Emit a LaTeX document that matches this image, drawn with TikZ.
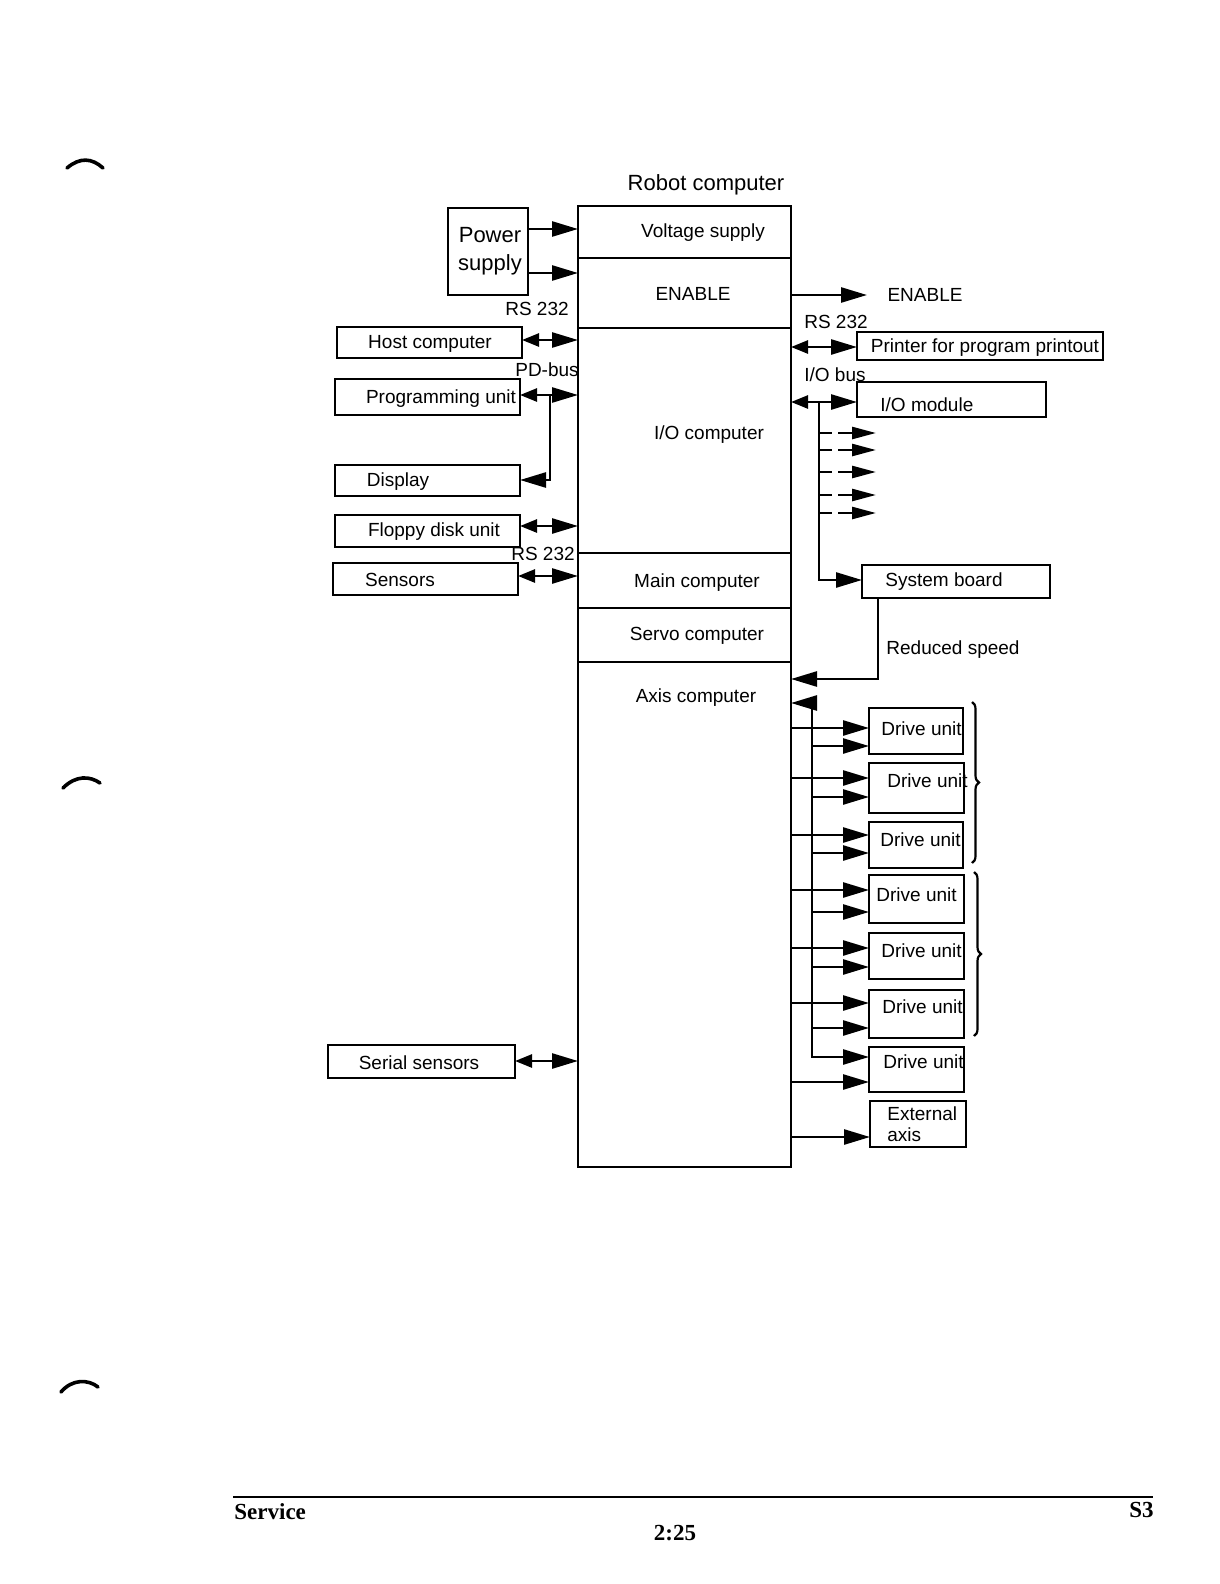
\documentclass[tikz,border=0pt]{standalone}
\usepackage{fontspec}
\setmainfont{Liberation Sans}
\newfontfamily\footfont{Liberation Serif}
\usetikzlibrary{arrows.meta,decorations.pathreplacing,calc}
\newcommand\mkbox[5]{%
  \pgfmathsetmacro\mkw{(#4-#2)*0.5}%
  \pgfmathsetmacro\mkh{(#5-#3)*0.5}%
  \pgfmathsetmacro\mkx{(#2+#4)/2}%
  \pgfmathsetmacro\mky{(#3+#5)/2}%
  \node[boxst, minimum width=\mkw pt, minimum height=\mkh pt] (#1) at (\mkx,\mky) {};}
\begin{document}
\begin{tikzpicture}[x=0.5pt,y=-0.5pt,
  ln/.style={line width=1.3pt},
  boxst/.style={draw, line width=1.4pt, inner sep=0pt, outer sep=0pt},
  lbl/.style={font=\fontsize{9.5}{11}\selectfont, inner sep=0pt, yshift=-0.8pt},
  big/.style={font=\fontsize{11}{14}\selectfont, inner sep=0pt, yshift=-1pt},
  foot/.style={font=\footfont\bfseries\fontsize{11.5}{13}\selectfont, inner sep=0pt},
  arr/.style={line width=1.3pt, -{Triangle[length=13pt,width=7.5pt]}},
  larr/.style={line width=1.3pt, {Triangle[length=13pt,width=7.5pt]}-},
  bi/.style={line width=1.3pt, {Triangle[length=8.5pt,width=6.5pt]}-{Triangle[length=13pt,width=7.5pt]}},
  dbl/.style={line width=1.3pt, {Triangle[length=13pt,width=7.5pt]}-{Triangle[length=13pt,width=7.5pt]}},
  darr/.style={line width=1.3pt, -{Triangle[length=12pt,width=6pt]}},
  brc/.style={line width=1.1pt, decorate, decoration={brace, amplitude=3.5pt}},
  punch/.style={line width=1.8pt, line cap=round},
]
\fill[white] (0,0) rectangle (1220,1584);
\useasboundingbox (0,0) rectangle (1220,1584);

% main robot computer box
\mkbox{main}{578}{206}{791}{1167}
\foreach \yy in {258,328,553,608,662} {\draw[ln] (main.west |- 0,\yy) -- (main.east |- 0,\yy);}
\node[big] (t-robot) at (706,183) {Robot computer};
\node[lbl] (t-volt) at (703,231) {Voltage supply};
\node[lbl] (t-en) at (693,292) {ENABLE};
\node[lbl] (t-io) at (709,433) {I/O computer};
\node[lbl] (t-main) at (697,581) {Main computer};
\node[lbl] (t-servo) at (697,634) {Servo computer};
\node[lbl] (t-axis) at (696,696) {Axis computer};

% left boxes
\mkbox{power}{448}{208}{528}{295}
\mkbox{host}{337}{327}{522}{358}
\mkbox{prog}{335}{379}{520}{415}
\mkbox{disp}{335}{465}{520}{496}
\mkbox{floppy}{335}{515}{520}{547}
\mkbox{sens}{333}{563}{518}{595}
\mkbox{serial}{328}{1045}{515}{1078}

\node[big, align=center] (t-power) at (490,249) {Power\\supply};
\node[lbl] (t-host) at (430,342) {Host computer};
\node[lbl] (t-prog) at (441,397) {Programming unit};
\node[lbl] (t-disp) at (398,480) {Display};
\node[lbl] (t-floppy) at (434,530) {Floppy disk unit};
\node[lbl] (t-sens) at (400,578) {Sensors};
\node[lbl] (t-serial) at (419,1061) {Serial sensors};
\node[lbl] (t-rs1) at (537,307) {RS 232};
\node[lbl] (t-pd) at (547,368) {PD-bus};
\node[lbl] (t-rs2) at (543,552) {RS 232};

% left connectors
\draw[arr] (power.east |- 0,229) -- (main.west |- 0,229);
\draw[arr] (power.east |- 0,273) -- (main.west |- 0,273);
\draw[bi] (host.east |- 0,340) -- (main.west |- 0,340);
\draw[bi] (prog.east |- 0,395) -- (main.west |- 0,395);
\coordinate (pdj) at (550,395);
\draw[larr] (disp.east |- 0,480) -- (pdj |- 0,480) -- (pdj);
\draw[bi] (floppy.east |- 0,526) -- (main.west |- 0,526);
\draw[bi] (sens.east |- 0,576) -- (main.west |- 0,576);
\draw[bi] (serial.east |- 0,1061) -- (main.west |- 0,1061);

% right boxes
\mkbox{printer}{857}{332}{1103}{360}
\mkbox{iomod}{857}{382}{1046}{417}
\mkbox{sysb}{862}{565}{1050}{598}
\mkbox{du1}{869}{708}{963}{754}
\mkbox{du2}{869}{763}{964}{813}
\mkbox{du3}{869}{822}{963}{868}
\mkbox{du4}{869}{875}{964}{923}
\mkbox{du5}{869}{933}{964}{979}
\mkbox{du6}{869}{990}{964}{1038}
\mkbox{du7}{869}{1047}{964}{1092}
\mkbox{ext}{870}{1101}{966}{1147}

\node[lbl] (t-en2) at (925,293) {ENABLE};
\node[lbl] (t-rs3) at (836,320) {RS 232};
\node[lbl] (t-printer) at (985,346) {Printer for program printout};
\node[lbl] (t-iobus) at (835,373) {I/O bus};
\node[lbl, anchor=west] (t-iomod) at (880,403) {I/O module};
\node[lbl] (t-sysb) at (944,580) {System board};
\node[lbl] (t-red) at (953,648) {Reduced speed};
\node[lbl, anchor=west] (t-du1) at (881,727) {Drive unit};
\node[lbl, anchor=west] (t-du2) at (887,779) {Drive unit};
\node[lbl, anchor=west] (t-du3) at (880,838) {Drive unit};
\node[lbl, anchor=west] (t-du4) at (876,893) {Drive unit};
\node[lbl, anchor=west] (t-du5) at (881,949) {Drive unit};
\node[lbl, anchor=west] (t-du6) at (882,1005) {Drive unit};
\node[lbl, anchor=west] (t-du7) at (883,1060) {Drive unit};
\node[lbl, anchor=west, align=left, font=\fontsize{9.5}{10.5}\selectfont] (t-ext) at (887,1123) {External\\axis};

% right connectors
\coordinate (enout) at (867,295);
\draw[arr] (main.east |- enout) -- (enout);
\draw[bi] (main.east |- 0,347) -- (printer.west |- 0,347);
\draw[bi] (main.east |- 0,402) -- (iomod.west |- 0,402);
\coordinate (iobus) at (819,402);
\draw[arr] (iobus) -- (iobus |- 0,580) -- (sysb.west |- 0,580);
\foreach \yy in {433,450,472,495,513} {
  \draw[ln] (iobus |- 0,\yy) -- ++(13,0);
  \draw[darr] (838,\yy) -- (876,\yy);
}
\coordinate (rs) at (878,679);
\draw[larr] (main.east |- rs) -- (rs) -- (rs |- sysb.south);

\coordinate (ax) at (812,703);
\draw[dbl] (main.east |- ax) -- (ax) -- (ax |- 0,1057) -- (du7.west |- 0,1057);
\draw[arr] (main.east |- 0,728) -- (du1.west |- 0,728);
\draw[arr] (main.east |- 0,778) -- (du2.west |- 0,778);
\draw[arr] (main.east |- 0,835) -- (du3.west |- 0,835);
\draw[arr] (main.east |- 0,890) -- (du4.west |- 0,890);
\draw[arr] (main.east |- 0,948) -- (du5.west |- 0,948);
\draw[arr] (main.east |- 0,1003) -- (du6.west |- 0,1003);
\draw[arr] (main.east |- 0,1082) -- (du7.west |- 0,1082);
\draw[arr] (main.east |- 0,1137) -- (ext.west |- 0,1137);
\draw[arr] (ax |- 0,746) -- (du1.west |- 0,746);
\draw[arr] (ax |- 0,797) -- (du2.west |- 0,797);
\draw[arr] (ax |- 0,853) -- (du3.west |- 0,853);
\draw[arr] (ax |- 0,912) -- (du4.west |- 0,912);
\draw[arr] (ax |- 0,967) -- (du5.west |- 0,967);
\draw[arr] (ax |- 0,1028) -- (du6.west |- 0,1028);

% braces
\draw[brc] (972,702) -- (972,863);
\draw[brc] (974,872) -- (974,1036);

% punch marks
\draw[punch] (67,168) .. controls (80,157) and (92,158) .. (103,168);
\draw[punch] (63,788) .. controls (76,775) and (90,776) .. (100,783);
\draw[punch] (61,1392) .. controls (72,1379) and (88,1379) .. (98,1387);

% footer
\draw[line width=1.4pt] (233,1497) -- (1153,1497);
\node[foot, anchor=west] (f-serv) at (234,1512) {Service};
\node[foot, anchor=east] (f-s3) at (1154,1510) {S3};
\node[foot] (f-page) at (675,1533) {2:25};
\end{tikzpicture}
\end{document}
